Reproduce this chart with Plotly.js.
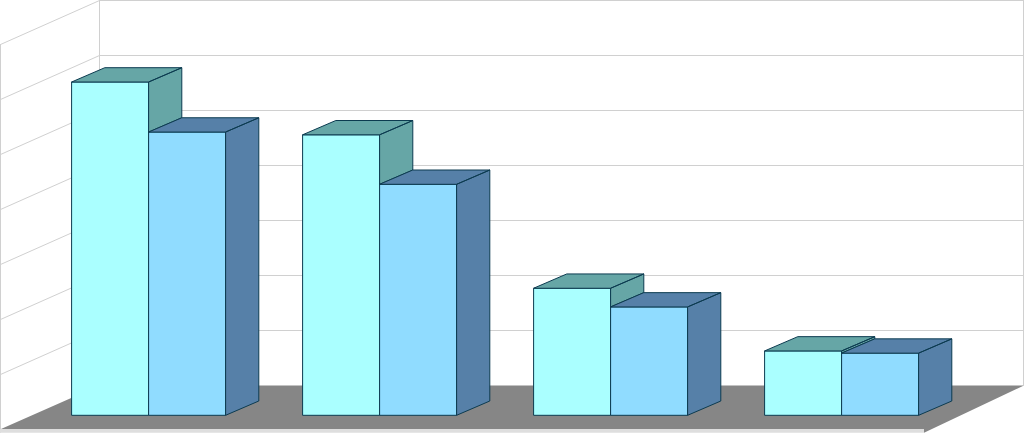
<!DOCTYPE html>
<html>
<head>
<meta charset="utf-8">
<script src="https://cdn.plot.ly/plotly-3.0.1.min.js"></script>
<style>html,body{margin:0;padding:0;background:#fff;overflow:hidden}</style>
</head>
<body>
<div id="chart" style="width:1024px;height:434px"></div>
<script>
// Data
const groups = [0, 1, 2, 3];
const seriesA = [6.06, 5.10, 2.31, 1.17];
const seriesB = [5.15, 4.20, 1.97, 1.13];
const gridLevels = [0, 1, 2, 3, 4, 5, 6, 7];

// Projection scale (pixels per axis unit) and oblique depth offsets
const W = 1024, H = 434, PX_X = 231, PX_Y = 55, X0 = 148.6, Y0 = 415.3;
const ax = p => (p - X0) / PX_X;          // pixel-to-axis, only for scene geometry
const ay = p => (Y0 - p) / PX_Y;
const barW = 77 / PX_X;
const dx = 33.2 / PX_X, dy = 14.3 / PX_Y;  // bar depth

const EDGE = '#0c3b50', WALL = '#d0d0d0';
const colors = {
  aFront: '#aaffff', aDepth: '#66a6a6',
  bFront: '#90dcff', bDepth: '#5680a8',
  floor: '#868686', lip: '#dedede'
};

function faces(groupsX, left, vals, lower) {
  const xs = [], ys = [];
  const poly = pts => { pts.forEach(p => { xs.push(p[0]); ys.push(p[1]); }); xs.push(null); ys.push(null); };
  groupsX.forEach((g, i) => {
    const l = g + left, r = l + barW, v = vals[i], lo = lower[i];
    // side face
    poly([[r, v], [r + dx, v + dy], [r + dx, lo + dy], [r, lo], [r, v]]);
    // top face
    poly([[l, v], [l + dx, v + dy], [r + dx, v + dy], [r, v], [l, v]]);
  });
  return { x: xs, y: ys };
}

const traces = [
  { type: 'bar', name: 'A', x: groups, y: seriesA,
    marker: { color: colors.aFront, line: { color: EDGE, width: 1 } }, hoverinfo: 'y' },
  { type: 'bar', name: 'B', x: groups, y: seriesB,
    marker: { color: colors.bFront, line: { color: EDGE, width: 1 } }, hoverinfo: 'y' },
  Object.assign(faces(groups, -barW, seriesA, seriesB), {
    type: 'scatter', mode: 'lines', fill: 'toself', fillcolor: colors.aDepth,
    line: { color: EDGE, width: 1 }, hoverinfo: 'skip' }),
  Object.assign(faces(groups, 0, seriesB, groups.map(() => 0)), {
    type: 'scatter', mode: 'lines', fill: 'toself', fillcolor: colors.bDepth,
    line: { color: EDGE, width: 1 }, hoverinfo: 'skip' })
];

// Scene: walls, floor and gridlines
const BACK_X = 99.5, BACK_FLOOR = 385.5, FRONT_FLOOR = 429, CORNER_X = 924, CORNER_Y = 432.7;
const line = (x0, y0, x1, y1) => ({
  type: 'line', layer: 'below', xref: 'x', yref: 'y',
  x0: ax(x0), y0: ay(y0), x1: ax(x1), y1: ay(y1),
  line: { color: WALL, width: 1 }
});
const path = (pts, fill) => ({
  type: 'path', layer: 'below', xref: 'x', yref: 'y',
  path: 'M' + pts.map(p => ax(p[0]) + ',' + ay(p[1])).join('L') + 'Z',
  fillcolor: fill, line: { width: 0 }
});

const shapes = [];
gridLevels.forEach(l => {
  const y = BACK_FLOOR - l * PX_Y;
  if (l > 0) shapes.push(line(BACK_X, y, W, y));
  if (l > 0) shapes.push(line(0.5, y + 44, BACK_X, y));
});
shapes.push(line(BACK_X, 0, BACK_X, BACK_FLOOR));
shapes.push(line(1023.5, 0, 1023.5, BACK_FLOOR));
shapes.push(line(0.5, 44, 0.5, CORNER_Y));
shapes.push(path([[0, FRONT_FLOOR], [CORNER_X, FRONT_FLOOR], [CORNER_X, CORNER_Y], [0, CORNER_Y]], colors.lip));
shapes.push(path([[1, FRONT_FLOOR], [BACK_X, BACK_FLOOR], [W, BACK_FLOOR], [CORNER_X, CORNER_Y], [CORNER_X, FRONT_FLOOR]], colors.floor));

const layout = {
  width: W, height: H,
  margin: { l: 0, r: 0, t: 0, b: 0, pad: 0 },
  paper_bgcolor: '#ffffff', plot_bgcolor: '#ffffff',
  showlegend: false,
  barmode: 'group', bargap: 1 / 3, bargroupgap: 0,
  xaxis: { range: [ax(0), ax(W)], visible: false, fixedrange: true },
  yaxis: { range: [ay(H), ay(0)], visible: false, fixedrange: true },
  shapes: shapes
};
Plotly.newPlot('chart', traces, layout, { staticPlot: true, displayModeBar: false });
</script>
</body>
</html>
